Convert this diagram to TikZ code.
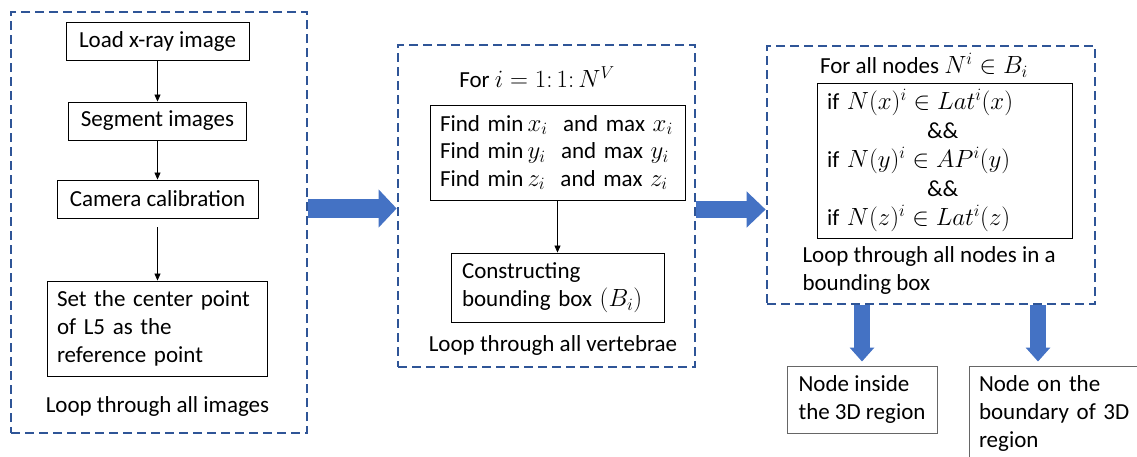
\documentclass[tikz,border=0pt]{standalone}
\usepackage{fontspec}
\setmainfont{Carlito}
\usetikzlibrary{arrows.meta,positioning,calc}
\definecolor{framecol}{HTML}{2F5597}
\definecolor{flowcol}{HTML}{4472C4}
\definecolor{greybox}{HTML}{666666}
\begin{document}
\begin{tikzpicture}[x=1pt,y=-1pt,
  every node/.style={font=\fontsize{23}{28}\selectfont},
  frame/.style={draw=framecol,line width=2.7pt,dash pattern=on 9pt off 5pt,
    rectangle,inner sep=0pt},
  stepbox/.style={draw=black,line width=0.9pt,rectangle,inner sep=0pt},
  txtbox/.style={draw=black,line width=0.9pt,rectangle,align=left,
    inner xsep=10pt,inner ysep=0pt},
  outbox/.style={draw=greybox,line width=1pt,rectangle,align=left,
    inner xsep=10pt,inner ysep=0pt},
  link/.style={draw=black,line width=0.8pt,-{Triangle[length=7pt,width=6pt]}},
  bigflow/.style={draw=flowcol,line width=19pt,
    -{Triangle[length=18pt,width=37pt]}},
  downflow/.style={draw=flowcol,line width=15.5pt,
    -{Triangle[length=14pt,width=24pt]}},
]
\clip (0,0) rectangle (1137,456);

% ---- stage 1: per-image preprocessing
\node[frame,minimum width=296pt,minimum height=421pt] (frame1) at (159,222.5) {};
\node[stepbox,minimum width=183pt,minimum height=38pt] (load) at (157.5,41) {Load x-ray image};
\node[stepbox,minimum width=178pt,minimum height=38pt] (seg) at (157.5,121) {Segment images};
\node[stepbox,minimum width=201pt,minimum height=38pt] (cam) at (157.5,199) {Camera calibration};
\node[txtbox,text width=200pt,minimum height=95pt] (ref) at (157,328.5)
  {Set the center point\\of L5 as the\\reference point};
\node (loop1) at (157.5,406) {Loop through all images};
\draw[link] (load) -- (seg);
\draw[link] (seg) -- (cam);
\draw[link,shorten <=9pt] (cam.south) -- (ref.north -| cam.south);

% ---- stage 2: per-vertebra bounding box
\node[frame,minimum width=297pt,minimum height=322pt] (frame2) at (546.5,206) {};
\node (forv) at (537,77) {For $i = 1{:}\,1{:}\,N^V$};
\node[txtbox,text width=235pt,minimum height=95pt,
  font=\fontsize{23}{27.5}\selectfont] (find) at (557.5,152.5)
  {Find $\min x_i$\ \ and max $x_i$\\Find $\min y_i$\ \ and max $y_i$\\Find $\min z_i$\ \ and max $z_i$};
\node[txtbox,text width=191pt,inner xsep=11pt,minimum height=69pt] (bbox) at (557.5,287.5)
  {Constructing\\bounding box $(B_i)$};
\node (loop2) at (553,345) {Loop through all vertebrae};
\draw[link] (find) -- (bbox);

% ---- stage 3: per-node classification
\node[frame,minimum width=328pt,minimum height=258pt] (frame3) at (931,175) {};
\node (forn) at (924,65) {For all nodes $N^i \in B_i$};
\node[txtbox,text width=235pt,minimum height=155pt,
  font=\fontsize{23}{29}\selectfont] (cond) at (944.5,160.5)
  {if $N(x)^i \in Lat^i(x)$\\\hspace*{100pt}\&\&\\if $N(y)^i \in AP^i(y)$\\\hspace*{100pt}\&\&\\if $N(z)^i \in Lat^i(z)$};
\node[anchor=west,align=left] (loop3) at (799,270) {Loop through all nodes in a\\bounding box};

% ---- outcomes
\node[outbox,inner xsep=0pt,minimum width=150pt,minimum height=67pt] (inside) at (862,399.5)
  {Node inside\\the 3D region};
\node[outbox,text width=175pt,minimum height=94pt] (bound) at (1066.5,413)
  {Node on the\\boundary of 3D\\region};

% ---- block arrows between stages
\coordinate (ya) at (0,208.5);
\coordinate (yb) at (0,209.5);
\coordinate (xd) at (1038,0);
\draw[bigflow] (frame1.east |- ya) -- (frame2.west |- ya);
\draw[bigflow,line width=17pt,-{Triangle[length=19pt,width=35pt]}]
  (frame2.east |- yb) -- (frame3.west |- yb);
\draw[downflow,shorten >=4pt] (frame3.south -| inside.north) -- (inside.north);
\draw[downflow,shorten >=4pt] (frame3.south -| xd) -- (bound.north -| xd);
\end{tikzpicture}
\end{document}
